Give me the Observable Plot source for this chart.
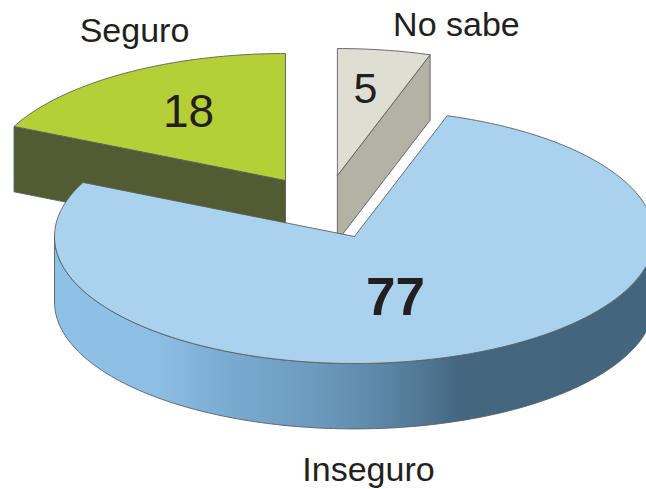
<!DOCTYPE html>
<html>
<head>
<meta charset="utf-8">
<script src="https://cdn.jsdelivr.net/npm/d3@7"></script>
<script src="https://cdn.jsdelivr.net/npm/@observablehq/plot@0.6"></script>
<style>
html,body{margin:0;padding:0;background:#fff;overflow:hidden}
svg{display:block}
</style>
</head>
<body>
<div id="chart"></div>
<script>
// Data
const categories = ["Inseguro", "Seguro", "No sabe"];
const values = [77, 18, 5];

// Layout (pie units: radius = 1 on both scales)
const W = 646, H = 489;
const RX = 300, RY = 127, CX = 354, CY = 236;
const DEPTH = 0.515;
const startAngle = {"No sabe": 0, "Inseguro": 18, "Seguro": 295.2};
const explode = {"Inseguro": [0, 0], "Seguro": [-0.23, 0.441], "No sabe": [-0.057, 0.48]};
const faceColor = {"Inseguro": "#a9d2ee", "Seguro": "#b5cf37", "No sabe": "#dfded2"};
const sideColor = {"Seguro": "#525c33", "No sabe": "#b3b2a5"};
const edge = "#5a5f60";
const ink = "#231f20";
const gradientStops = [
  [0, "#8fc1e6"], [0.17, "#8dbee4"], [0.3, "#7aa9cf"], [0.43, "#6d9bbf"],
  [0.56, "#5a84a3"], [0.68, "#44667f"], [1, "#44657e"]
];

const rad = d => d * Math.PI / 180;
function arc(cat, a0, a1, dz = 0) {
  const [ox, oy] = explode[cat];
  const n = Math.max(2, Math.ceil(Math.abs(a1 - a0)));
  return d3.range(n + 1).map(i => {
    const a = rad(a0 + (a1 - a0) * i / n);
    return {x: ox + Math.sin(a), y: oy + Math.cos(a) - dz};
  });
}
function sweep(cat) {
  const v = values[categories.indexOf(cat)];
  const a0 = startAngle[cat];
  return [a0, a0 + v * 3.6];
}
function tip(cat, dz = 0) {
  const [ox, oy] = explode[cat];
  return {x: ox, y: oy - dz};
}
function face(cat) {
  const [a0, a1] = sweep(cat);
  return [tip(cat), ...arc(cat, a0, a1), tip(cat)];
}
const poly = (pts, fill, extra = {}) =>
  Plot.line(pts, {x: "x", y: "y", fill, stroke: edge, strokeWidth: 0.9, curve: "linear", ...extra});

// Seguro: side along the cut that goes from the tip to the left rim
const [sa0] = sweep("Seguro");
const seguroSide = [tip("Seguro"), arc("Seguro", sa0, sa0)[0], arc("Seguro", sa0, sa0, DEPTH)[0], tip("Seguro", DEPTH), tip("Seguro")];
// No sabe: side along the cut that goes from the tip to the right rim
const [, na1] = sweep("No sabe");
const noSabeSide = [tip("No sabe"), arc("No sabe", na1, na1)[0], arc("No sabe", na1, na1, DEPTH)[0], tip("No sabe", DEPTH), tip("No sabe")];
// Inseguro: outer wall on the front half
const wall = [...arc("Inseguro", 90, 270), ...arc("Inseguro", 270, 90, DEPTH), arc("Inseguro", 90, 90)[0]];

const labelPlace = {
  "Seguro":   {name: [-151, -149], value: [-97, -68]},
  "No sabe":  {name: [119, -150], value: [28, -86]},
  "Inseguro": {name: [14, 234], value: [41, 62]}
};
const names = categories.map(c => {
  const [ox, oy] = explode[c], [dx, dy] = labelPlace[c].name;
  return {x: ox + dx / RX, y: oy - dy / RY, text: c};
});
const numbers = categories.map((c, i) => {
  const [ox, oy] = explode[c], [dx, dy] = labelPlace[c].value;
  return {x: ox + dx / RX, y: oy - dy / RY, text: String(values[i]), cat: c};
});
const numSize = {"Seguro": 46, "No sabe": 43};

const font = "'Liberation Sans', Arial, sans-serif";
const plot = Plot.plot({
  width: W, height: H, margin: 0,
  style: {background: "#fff", fontFamily: font, overflow: "hidden"},
  x: {axis: null, domain: [-CX / RX, (W - CX) / RX], range: [0, W]},
  y: {axis: null, domain: [CY / RY, (CY - H) / RY], range: [0, H]},
  marks: [
    poly(seguroSide, sideColor["Seguro"]),
    poly(face("Seguro"), faceColor["Seguro"]),
    poly(noSabeSide, sideColor["No sabe"]),
    poly(face("No sabe"), faceColor["No sabe"]),
    poly(wall, "url(#wallGradient)"),
    poly(face("Inseguro"), faceColor["Inseguro"]),
    Plot.text(names, {x: "x", y: "y", text: "text", fontSize: 34, fill: ink, textAnchor: "middle", lineAnchor: "middle"}),
    Plot.text(numbers.filter(d => d.cat !== "Inseguro"), {x: "x", y: "y", text: "text", fontSize: d => numSize[d.cat], fill: ink, textAnchor: "middle", lineAnchor: "middle"}),
    Plot.text(numbers.filter(d => d.cat === "Inseguro"), {x: "x", y: "y", text: "text", fontSize: 53, fontWeight: "bold", fill: ink, textAnchor: "middle", lineAnchor: "middle"})
  ]
});

const ns = "http://www.w3.org/2000/svg";
const defs = document.createElementNS(ns, "defs");
const grad = document.createElementNS(ns, "linearGradient");
grad.setAttribute("id", "wallGradient");
gradientStops.forEach(([o, c]) => {
  const s = document.createElementNS(ns, "stop");
  s.setAttribute("offset", o);
  s.setAttribute("stop-color", c);
  grad.appendChild(s);
});
defs.appendChild(grad);
plot.insertBefore(defs, plot.firstChild);
document.getElementById("chart").appendChild(plot);
</script>
</body>
</html>
